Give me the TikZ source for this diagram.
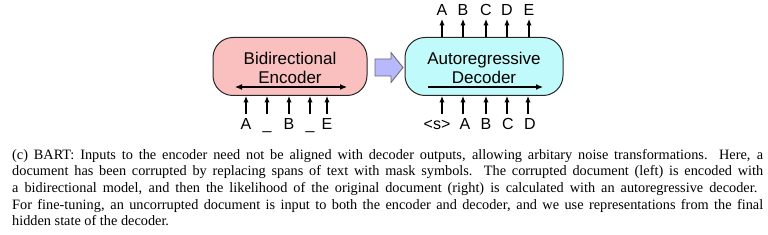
\documentclass[tikz,border=0pt]{standalone}
\usepackage{fontspec}
\setmainfont{Liberation Serif}
\newfontfamily\boxfont{Liberation Sans}
\usetikzlibrary{arrows.meta}
\definecolor{encfill}{RGB}{250,192,192}
\definecolor{decfill}{RGB}{192,250,250}
\definecolor{blockfill}{RGB}{184,184,255}
\tikzset{
  model/.style={draw=black!85, line width=1pt, rounded corners=20pt, minimum height=58pt, align=center, font=\boxfont\fontsize{17}{20}\selectfont, inner sep=0pt},
  tok/.style={anchor=base, font=\boxfont\fontsize{16}{18}\selectfont, inner sep=0pt},
  tokarrow/.style={-{Latex[length=6.5pt,width=5.5pt]}, line width=1.2pt},
  capline/.style={anchor=base west, inner sep=0pt, font=\fontsize{14.3}{16.7}\selectfont}
}
\begin{document}
\begin{tikzpicture}[x=1pt,y=-1pt]
\useasboundingbox (0,0) rectangle (768,235);
% encoder
\node[model, fill=encfill, minimum width=154pt] (enc) at (290,66.5) {};
\node[font=\boxfont\fontsize{17}{20}\selectfont, align=center, inner sep=0pt] (enctxt) at (290,68) {Bidirectional\\[-1pt]Encoder};
\coordinate (el) at (235,87);
\coordinate (er) at (347,87);
\draw[{Latex[length=7pt,width=6pt]}-{Latex[length=7pt,width=6pt]}, line width=1.2pt] (el) -- (er);
% decoder
\node[model, fill=decfill, minimum width=158pt] (dec) at (484,66.5) {};
\node[font=\boxfont\fontsize{17}{20}\selectfont, align=center, inner sep=0pt] (dectxt) at (484,68) {Autoregressive\\[-1pt]Decoder};
\coordinate (dl) at (428,87);
\coordinate (dr) at (543,87);
\draw[-{Latex[length=7pt,width=6pt]}, line width=1.2pt] (dl) -- (dr);
% block arrow
\draw[fill=blockfill, draw=black!60, line width=0.8pt] (375,59) -- (391,59) -- (391,52.5) -- (403,67.5) -- (391,82.5) -- (391,76) -- (375,76) -- cycle;
% encoder inputs
\foreach \n/\x/\t in {e1/246/A, e2/267/\_, e3/289/B, e4/310/\_, e5/327/E}{
  \node[tok] (\n) at (\x,129) {\t};
  \draw[tokarrow] (\x,114) -- (\x,114 |- enc.south);
}
% decoder inputs
\node[tok] (d1) at (437,129) {<s>};
\draw[tokarrow] (442,114) -- (442,114 |- dec.south);
\foreach \n/\x/\lx/\t in {d2/463/465/A, d3/486/486/B, d4/507/508/C, d5/528/530/D}{
  \node[tok] (\n) at (\lx,129) {\t};
  \draw[tokarrow] (\x,114) -- (\x,114 |- dec.south);
}
% decoder outputs
\foreach \n/\x/\t in {o1/442/A, o2/463/B, o3/486/C, o4/507/D, o5/529/E}{
  \node[tok] (\n) at (\x,15.5) {\t};
  \draw[tokarrow] (\x,19 |- dec.north) -- (\x,19);
}
% caption
\node[capline] (c1) at (12,159) {\hbox to 751pt{(c) BART: Inputs to the encoder need not be aligned with decoder outputs, allowing arbitary noise transformations. Here, a}};
\node[capline] (c2) at (12,175.7) {\hbox to 751pt{document has been corrupted by replacing spans of text with mask symbols. The corrupted document (left) is encoded with}};
\node[capline] (c3) at (12,192.4) {\hbox to 745pt{a bidirectional model, and then the likelihood of the original document (right) is calculated with an autoregressive decoder.}};
\node[capline] (c4) at (12,209.1) {\hbox to 751pt{For fine-tuning, an uncorrupted document is input to both the encoder and decoder, and we use representations from the final}};
\node[capline] (c5) at (12,225.8) {hidden state of the decoder.};
\end{tikzpicture}
\end{document}
